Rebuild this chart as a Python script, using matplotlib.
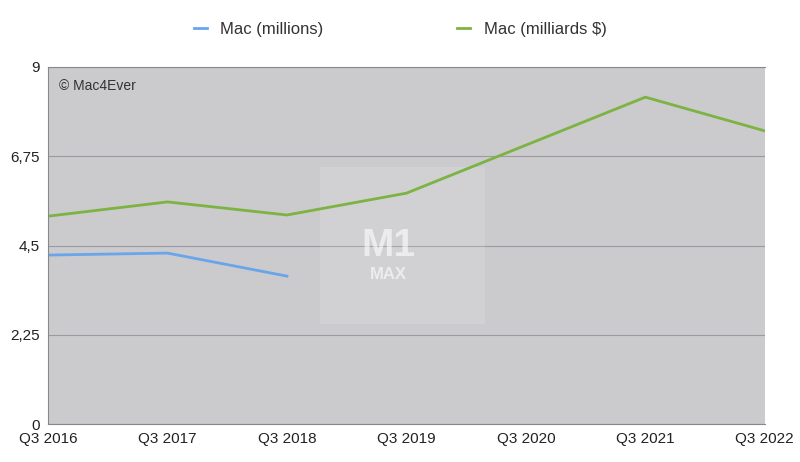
import matplotlib
matplotlib.use("Agg")
import matplotlib.pyplot as plt
from matplotlib.patches import Rectangle

plt.rcParams["font.family"] = "Liberation Sans"

quarters = ["Q3 2016", "Q3 2017", "Q3 2018", "Q3 2019", "Q3 2020", "Q3 2021", "Q3 2022"]
mac_units = [4.26, 4.31, 3.73]
mac_revenue = [5.24, 5.6, 5.27, 5.82, 7.03, 8.24, 7.39]
yticks = [0, 2.25, 4.5, 6.75, 9]
ylabels = ["0", "2,25", "4,5", "6,75", "9"]

fig = plt.figure(figsize=(8, 4.62), dpi=100)
ax = fig.add_axes([0.06, 0.082, 0.896, 0.773])
ax.set_facecolor("#cbcacd")
x = list(range(len(quarters)))
ax.plot(x[:len(mac_units)], mac_units, color="#6aa5ea", lw=2, label="Mac (millions)")
ax.plot(x, mac_revenue, color="#7cb342", lw=2, label="Mac (milliards $)")
ax.set_xlim(0, len(quarters) - 1)
ax.set_ylim(0, 9)
ax.set_xticks(x)
ax.set_xticklabels(quarters, fontsize=11, color="#222")
ax.set_yticks(yticks)
ax.set_yticklabels(ylabels, fontsize=11, color="#222")
ax.yaxis.grid(True, color="#9a9aa0", lw=0.8)
ax.set_axisbelow(True)
ax.spines["right"].set_visible(False)
for s in ["left", "bottom", "top"]:
    ax.spines[s].set_color("#888")
ax.tick_params(length=0, pad=6)
ax.add_patch(Rectangle((0.38, 0.28), 0.23, 0.44, transform=ax.transAxes,
                       color="white", alpha=0.12, lw=0))
ax.text(0.475, 0.5, "M1", transform=ax.transAxes, fontsize=28, color="white",
        alpha=0.6, ha="center", va="center", fontweight="bold")
ax.text(0.475, 0.42, "MAX", transform=ax.transAxes, fontsize=12, color="white",
        alpha=0.6, ha="center", va="center", fontweight="bold")
ax.text(0.015, 0.965, "© Mac4Ever", transform=ax.transAxes, fontsize=10,
        color="#333", va="top")
fig.legend(loc="upper center", bbox_to_anchor=(0.5, 0.985), ncol=2, frameon=False,
           fontsize=12, handlelength=0.8, columnspacing=8, labelcolor="#333")
fig.savefig("out.png", dpi=100)
